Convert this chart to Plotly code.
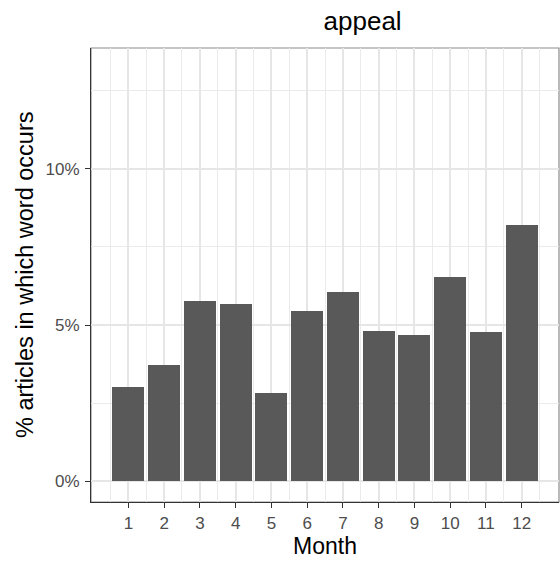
import plotly.graph_objects as go

months = list(range(1, 13))
pct = [3.02, 3.73, 5.76, 5.68, 2.83, 5.45, 6.05, 4.81, 4.68, 6.54, 4.77, 8.21]
x_tick_labels = [str(m) for m in months]
y_tick_vals = [0, 5, 10]
y_tick_labels = ["0%", "5%", "10%"]

FONT = "Liberation Sans, Arial, sans-serif"

fig = go.Figure(go.Bar(x=months, y=pct, width=0.9,
                       marker=dict(color="#595959", line=dict(width=0))))

fig.update_layout(
    width=560, height=562,
    margin=dict(l=91, r=1, t=48, b=60, autoexpand=False),
    paper_bgcolor="white", plot_bgcolor="white",
    font=dict(family=FONT, color="black"),
    title=dict(text="appeal", x=325 / 560, xanchor="center", xref="paper",
               y=1 - 21 / 562, yanchor="middle", font=dict(size=26, color="black")),
    showlegend=False,
    bargap=0,
    shapes=[dict(type="rect", xref="paper", yref="paper", x0=0, x1=1, y0=0, y1=1,
                 line=dict(color="#8c8c8c", width=1.2), layer="below")],
    annotations=[
        dict(text="Month", xref="paper", yref="paper", x=0.5, y=-(546 - 501.7) / 453.7,
             xanchor="center", yanchor="middle", showarrow=False,
             font=dict(size=23, color="black", family=FONT)),
        dict(text="% articles in which word occurs", xref="paper", yref="paper",
             x=-(91 - 25) / 468, y=0.5, xanchor="center", yanchor="middle",
             textangle=-90, showarrow=False,
             font=dict(size=23.5, color="black", family=FONT)),
    ],
)
fig.update_xaxes(
    automargin=False,
    range=[-0.045, 13.045], tickmode="array", tickvals=months, ticktext=x_tick_labels,
    showgrid=True, gridcolor="#e6e6e6", gridwidth=1.6,
    minor=dict(tickvals=[m - 0.5 for m in months] + [12.5], showgrid=True,
               gridcolor="#ebebeb", gridwidth=1, ticks=""),
    showline=True, linecolor="#333333", linewidth=1.2,
    ticks="outside", ticklen=5, tickcolor="#333333", tickwidth=1.2,
    tickfont=dict(size=17, color="#4d4d4d"),
    ticklabelstandoff=0,
    zeroline=False,
)
fig.update_yaxes(
    automargin=False,
    range=[-0.66, 13.86], tickmode="array", tickvals=y_tick_vals, ticktext=y_tick_labels,
    showgrid=True, gridcolor="#e6e6e6", gridwidth=1.6,
    minor=dict(tickvals=[2.5, 7.5, 12.5], showgrid=True, gridcolor="#ebebeb",
               gridwidth=1, ticks=""),
    showline=True, linecolor="#333333", linewidth=1.2,
    ticks="outside", ticklen=5, tickcolor="#333333", tickwidth=1.2,
    tickfont=dict(size=17, color="#4d4d4d"),
    ticklabelstandoff=2,
    zeroline=False,
)

fig.write_html(
    "out.html",
    config={"displayModeBar": False},
    post_script="document.body.style.margin='0';document.body.style.padding='0';"
                "document.documentElement.style.overflow='hidden';",
)
